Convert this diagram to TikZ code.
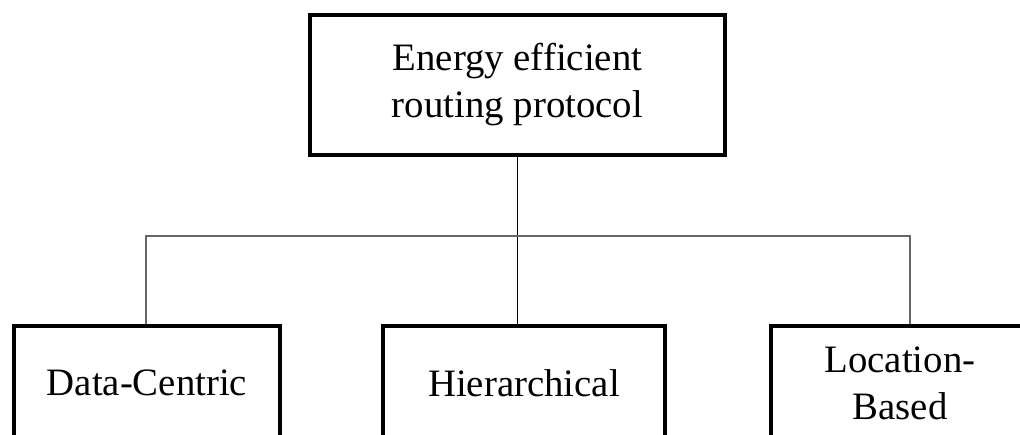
\documentclass[tikz,border=0pt]{standalone}
\usepackage{fontspec}
\setmainfont{Liberation Serif}
\usepackage{tikz}
\usetikzlibrary{positioning}

\begin{document}
\begin{tikzpicture}[x=1pt,y=-1pt,font=\fontsize{38.8}{47}\selectfont,
  catbox/.style={draw,line width=4pt,inner sep=0pt,align=center,minimum height=114pt}]
  \useasboundingbox (0,0) rectangle (1020,434);
  \node[catbox,minimum width=415pt,minimum height=140pt] (root) at (517.5,85) {Energy efficient\\routing protocol};
  \node[catbox,minimum width=266pt] (dc) at (147,383) {Data-Centric};
  \node[catbox,minimum width=282pt] (hier) at (524,383) {Hierarchical};
  \node[catbox,minimum width=258pt] (loc) at (900,383) {Location-\\Based};
  \coordinate (jl) at (146,236);
  \coordinate (jr) at (910,236);
  \draw[line width=1.2pt] (root.south) -- (root.south |- hier.north);
  \draw[black!60,line width=1.8pt] (jl |- dc.north) -- (jl) -- (jr) -- (jr |- loc.north);
\end{tikzpicture}
\end{document}
